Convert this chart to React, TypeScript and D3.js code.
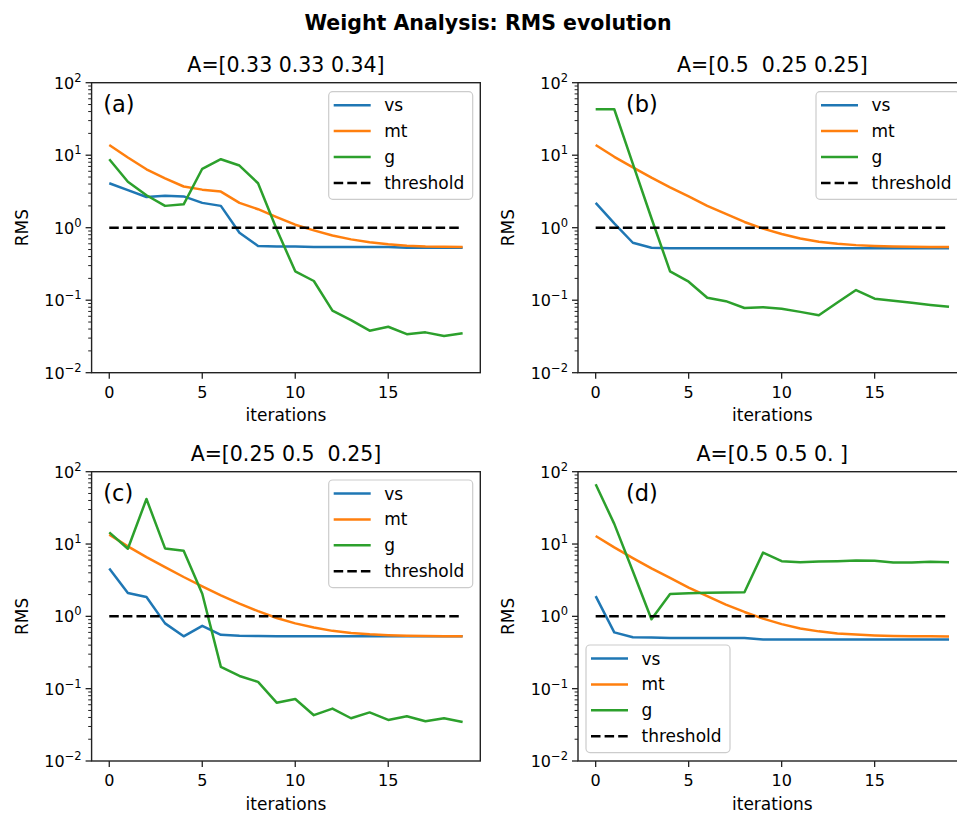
import React from "react";
import * as d3 from "d3";

const ITER = d3.range(20);
const THRESHOLD = 1;

const vsA = [4.1, 3.3, 2.65, 2.75, 2.7, 2.2, 2.0, 0.85, 0.56, 0.55, 0.55, 0.54, 0.54, 0.54, 0.54, 0.54, 0.53, 0.53, 0.53, 0.53];
const mtA = [13.8, 9.3, 6.4, 4.8, 3.7, 3.35, 3.15, 2.2, 1.8, 1.4, 1.1, 0.92, 0.78, 0.69, 0.63, 0.59, 0.565, 0.55, 0.545, 0.54];
const gA = [8.8, 4.3, 2.8, 2.0, 2.1, 6.5, 8.8, 7.2, 4.1, 0.95, 0.25, 0.184, 0.072, 0.053, 0.038, 0.043, 0.034, 0.036, 0.032, 0.035];

const vsB = [2.2, 1.15, 0.62, 0.53, 0.52, 0.52, 0.52, 0.52, 0.52, 0.52, 0.52, 0.52, 0.52, 0.52, 0.52, 0.52, 0.52, 0.52, 0.52, 0.52];
const mtB = [13.8, 9.5, 6.8, 4.9, 3.6, 2.7, 2.0, 1.55, 1.2, 0.97, 0.82, 0.71, 0.64, 0.6, 0.575, 0.56, 0.55, 0.545, 0.54, 0.54];
const gB = [43, 43, 7.6, 1.35, 0.25, 0.18, 0.108, 0.097, 0.078, 0.08, 0.076, 0.069, 0.062, 0.093, 0.138, 0.105, 0.098, 0.092, 0.086, 0.081];

const vsC = [4.6, 2.1, 1.85, 0.8, 0.53, 0.74, 0.555, 0.54, 0.535, 0.53, 0.53, 0.53, 0.53, 0.53, 0.53, 0.53, 0.53, 0.53, 0.53, 0.53];
const mtC = [13.5, 9.3, 6.6, 4.8, 3.5, 2.6, 1.95, 1.5, 1.18, 0.95, 0.8, 0.7, 0.63, 0.59, 0.565, 0.55, 0.54, 0.535, 0.53, 0.53];
const gC = [14.5, 8.6, 42, 8.7, 8.1, 2.05, 0.2, 0.15, 0.124, 0.064, 0.072, 0.043, 0.053, 0.039, 0.047, 0.037, 0.0415, 0.0355, 0.039, 0.0346];

const vsD = [1.9, 0.6, 0.515, 0.51, 0.5, 0.5, 0.5, 0.5, 0.5, 0.48, 0.48, 0.48, 0.48, 0.48, 0.48, 0.48, 0.48, 0.48, 0.48, 0.48];
const mtD = [12.9, 9.0, 6.4, 4.6, 3.4, 2.5, 1.9, 1.45, 1.15, 0.93, 0.78, 0.68, 0.62, 0.58, 0.56, 0.545, 0.535, 0.53, 0.53, 0.525];
const gD = [67, 19, 4.2, 0.91, 2.04, 2.08, 2.12, 2.13, 2.16, 7.6, 5.8, 5.6, 5.75, 5.8, 5.9, 5.85, 5.55, 5.55, 5.7, 5.6];

const TITLES = ["A=[0.33 0.33 0.34]", "A=[0.5  0.25 0.25]", "A=[0.25 0.5  0.25]", "A=[0.5 0.5 0. ]"];
const TAGS = ["(a)", "(b)", "(c)", "(d)"];
const SERIES_NAMES = ["vs", "mt", "g", "threshold"];
const COLORS = ["#1f77b4", "#ff7f0e", "#2ca02c", "#000000"];
const X_TICKS = [0, 5, 10, 15];
const Y_EXPONENTS = [-2, -1, 0, 1, 2];
const SUPTITLE = "Weight Analysis: RMS evolution";

const FONT = "DejaVu Sans, sans-serif";

type PanelProps = {
  left: number; right: number; top: number; bottom: number;
  title: string; tag: string; tagX: number;
  series: number[][];
  legendLeft: number; legendTop: number;
};

function Panel(p: PanelProps) {
  const x = d3.scaleLinear().domain([-0.95, 19.95]).range([p.left, p.right]);
  const y = d3.scaleLog().domain([1e-2, 1e2]).range([p.bottom, p.top]);
  const line = d3.line<number>().x((_, i) => x(ITER[i])).y((d) => y(d));
  const thr = ITER.map(() => THRESHOLD);
  const minor: number[] = [];
  for (let e = -2; e < 2; e++) for (let m = 2; m <= 9; m++) minor.push(m * Math.pow(10, e));
  const lw = 2.5;
  const legW = 144, legH = 107.6;
  return (
    <g>
      <text x={(p.left + p.right) / 2} y={p.top - 10.5} textAnchor="middle" fontSize={20.5} fontFamily={FONT} fill="#000" style={{ whiteSpace: "pre" }} xmlSpace="preserve">{p.title}</text>
      {p.series.map((s, i) => (
        <path key={i} d={line(s) || ""} fill="none" stroke={COLORS[i]} strokeWidth={lw} strokeLinejoin="round" />
      ))}
      <path d={line(thr) || ""} fill="none" stroke="#000" strokeWidth={lw} strokeDasharray="9.5,4.1" />
      <rect x={p.left} y={p.top} width={p.right - p.left} height={p.bottom - p.top} fill="none" stroke="#222" strokeWidth={1.4} />
      {X_TICKS.map((t) => (
        <g key={t}>
          <line x1={x(t)} x2={x(t)} y1={p.bottom} y2={p.bottom + 6} stroke="#222" strokeWidth={1.3} />
          <text x={x(t)} y={p.bottom + 25} textAnchor="middle" fontSize={16} fontFamily={FONT} fill="#000">{t}</text>
        </g>
      ))}
      <text x={(p.left + p.right) / 2} y={p.bottom + 48.5} textAnchor="middle" fontSize={17} fontFamily={FONT} fill="#000">iterations</text>
      {minor.map((m, i) => (
        <line key={i} x1={p.left - 3.4} x2={p.left} y1={y(m)} y2={y(m)} stroke="#222" strokeWidth={1} />
      ))}
      {Y_EXPONENTS.map((e) => (
        <g key={e}>
          <line x1={p.left - 6} x2={p.left} y1={y(Math.pow(10, e))} y2={y(Math.pow(10, e))} stroke="#222" strokeWidth={1.3} />
          <text x={p.left - 10} y={y(Math.pow(10, e)) + 6} textAnchor="end" fontSize={16} fontFamily={FONT} fill="#000">
            10<tspan dy={-7} fontSize={11.5}>{e < 0 ? "\u2212" + Math.abs(e) : String(e)}</tspan>
          </text>
        </g>
      ))}
      <text transform={`translate(${p.left - 64},${(p.top + p.bottom) / 2}) rotate(-90)`} textAnchor="middle" fontSize={17} fontFamily={FONT} fill="#000">RMS</text>
      <text x={p.tagX} y={p.top + 29.3} fontSize={22.5} fontFamily={FONT} fill="#000">{p.tag}</text>
      <rect x={p.legendLeft} y={p.legendTop} width={legW} height={legH} rx={4} ry={4} fill="#fff" fillOpacity={0.8} stroke="#ccc" strokeWidth={1.2} />
      {SERIES_NAMES.map((n, i) => {
        const cy = p.legendTop + 13.5 + i * 25.9;
        return (
          <g key={n}>
            <line x1={p.legendLeft + 5} x2={p.legendLeft + 42} y1={cy} y2={cy} stroke={COLORS[i]} strokeWidth={lw} strokeDasharray={i === 3 ? "9.5,4.1" : undefined} />
            <text x={p.legendLeft + 55.5} y={cy + 6} fontSize={17} fontFamily={FONT} fill="#000">{n}</text>
          </g>
        );
      })}
    </g>
  );
}

export default function App() {
  const W = 957, H = 815;
  const colL = { left: 91.6, right: 480.3 };
  const colR = { left: 578, right: 966.7 };
  const rowT = { top: 82.7, bottom: 372.7 };
  const rowB = { top: 471.7, bottom: 761 };
  return (
    <svg width={W} height={H} style={{ position: "absolute", left: 0, top: 0, background: "#fff" }}>
      <rect width={W} height={H} fill="#fff" />
      <text x={488} y={29.5} textAnchor="middle" fontSize={20.5} fontWeight="bold" fontFamily={FONT} fill="#000">{SUPTITLE}</text>
      <Panel {...colL} {...rowT} title={TITLES[0]} tag={TAGS[0]} tagX={103.3} series={[vsA, mtA, gA]} legendLeft={328.7} legendTop={91.7} />
      <Panel {...colR} {...rowT} title={TITLES[1]} tag={TAGS[1]} tagX={626} series={[vsB, mtB, gB]} legendLeft={816} legendTop={91.7} />
      <Panel {...colL} {...rowB} title={TITLES[2]} tag={TAGS[2]} tagX={103.3} series={[vsC, mtC, gC]} legendLeft={328.7} legendTop={480} />
      <Panel {...colR} {...rowB} title={TITLES[3]} tag={TAGS[3]} tagX={626} series={[vsD, mtD, gD]} legendLeft={586} legendTop={645} />
    </svg>
  );
}
